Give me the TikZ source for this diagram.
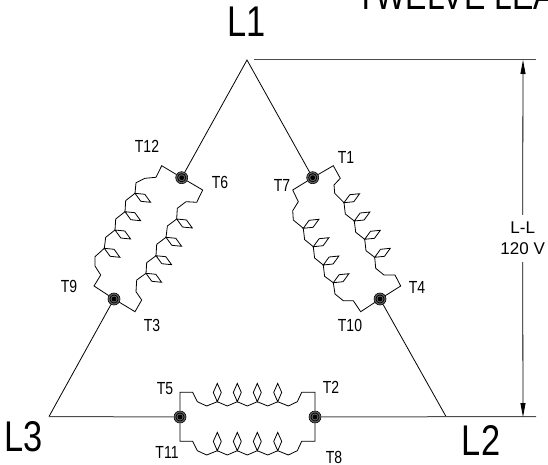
\documentclass[tikz,border=0pt]{standalone}
\usepackage{fontspec}
\setmainfont{Liberation Sans}
\newfontfamily\condfont[FakeStretch=0.80]{Liberation Sans}
\newfontfamily\titlefont[FakeStretch=0.80]{Liberation Sans}
\usetikzlibrary{arrows.meta}
\tikzset{
  wire/.style={line width=0.8pt,black,line join=miter},
  dimline/.style={line width=1pt,black!70},
  tlabel/.style={inner sep=0pt,font=\condfont\fontsize{17.5}{17.5}\selectfont,anchor=center},
  biglabel/.style={inner sep=0pt,font=\condfont\fontsize{43}{43}\selectfont,anchor=base},
  volt/.style={inner sep=0pt,font=\fontsize{17}{21}\selectfont,align=center,minimum height=47pt},
  dot/.style={circle,draw=black,line width=0.6pt,minimum size=12pt,inner sep=0pt,fill=black!60,
    path picture={
      \draw[black,line width=0.8pt] (path picture bounding box.center) circle (4.1pt);
      \fill[black] (path picture bounding box.center) circle (2.4pt);}},
  darrow/.style={wire,-{Triangle[length=14pt,width=5pt]}},
}
\newcommand{\dmd}[5]{\draw[wire] (#1,#2) -- +(#3) -- +(#4) -- +(#5) -- cycle;}
\newcommand{\dmdR}[2]{\dmd{#1}{#2}{5.8,-8}{15.6,-9}{9.8,-1}}
\newcommand{\dmdL}[2]{\dmd{#1}{#2}{5.8,8}{15.6,9}{9.8,1}}
\newcommand{\dmdB}[2]{\dmd{#1}{#2}{-4,-9.3}{0,-18.3}{4,-9.3}}
\begin{document}
\begin{tikzpicture}[x=1pt,y=-1pt]
\useasboundingbox (0,0) rectangle (548,465);
\clip (0,0) rectangle (548,465);
\coordinate (apex) at (247,60);
\coordinate (cL3) at (49,416.5);
\coordinate (cL2) at (446,416.5);
\coordinate (dt) at (523,60);
\coordinate (db) at (523,417);
\coordinate (dt1) at (254,60);
\coordinate (dt2) at (536,60);
\coordinate (db2) at (536,416.5);
% junctions
\node[dot] (J1) at (312.7,177.7) {};
\node[dot] (J6) at (181.7,177.7) {};
\node[dot] (J3) at (114,299) {};
\node[dot] (J4) at (380,299) {};
\node[dot] (J5) at (180,417) {};
\node[dot] (J2) at (315,417) {};
% triangle wires
\draw[wire] (J1) -- (apex) -- (J6);
\draw[wire] (J3) -- (cL3);
\draw[dimline] (cL3) -- (J5);
\draw[wire] (J4) -- (cL2);
\draw[dimline] (J2) -- (db2);
\draw[dimline] (dt1) -- (dt2);
% dimension
\node[volt] (vlab) at (522.7,238.5) {L-L\\120 V};
\draw[darrow] (vlab.north) -- (dt);
\draw[darrow] (vlab.south) -- (db);
% right coils
\draw[wire] (J1) -- (333.3,165.7) -- (340.3,178.3) -- (334,185) -- (334.7,193.3) -- (344,202.7)
 -- (345.3,214) -- (354.3,221) -- (355.7,232.3) -- (364.7,239.3) -- (366,250.7) -- (374.7,257.3)
 -- (375.7,268.3) -- (384,275) -- (395,275) -- (400.7,286) -- (J4);
\dmdR{344}{202.7}\dmdR{354.3}{221}\dmdR{364.7}{239.3}\dmdR{374.7}{257.3}
\draw[wire] (J1) -- (292.7,190) -- (298.3,201.7) -- (292.7,210.7) -- (293.3,220) -- (303.3,228.3)
 -- (304.6,239.6) -- (313.3,246.7) -- (314.6,258) -- (323.3,265) -- (324.6,276.3) -- (333.3,282.7)
 -- (335,294) -- (343.3,300.7) -- (353.3,300.7) -- (360.7,311.7) -- (J4);
\dmdR{303.3}{228.3}\dmdR{313.3}{246.7}\dmdR{323.3}{265}\dmdR{333.3}{282.7}
% left coils
\draw[wire] (J6) -- (161.7,165.7) -- (156,177.3) -- (145,178.3) -- (136,182.7) -- (135,193.3)
 -- (125.7,200.6) -- (125,211.7) -- (115.7,219) -- (115,230) -- (105.7,237.3) -- (104.3,248.3)
 -- (95,256.7) -- (95,266) -- (100.7,275) -- (94,286) -- (J3);
\dmdL{135}{193.3}\dmdL{125}{211.7}\dmdL{115}{230}\dmdL{104.3}{248.3}
\draw[wire] (J6) -- (202.7,190) -- (196.7,202.3) -- (186,201.7) -- (177.3,208.3) -- (176.7,219)
 -- (167.4,226) -- (166,237.3) -- (156.7,244.3) -- (156,255.7) -- (146.7,262.7) -- (146,273.3)
 -- (136.7,280) -- (136,291.7) -- (141.7,300) -- (135,311.7) -- (J3);
\dmdL{176.7}{219}\dmdL{166}{237.3}\dmdL{156}{255.7}\dmdL{146}{273.3}
% bottom coils
\draw[wire] (J5) -- (180,392.3) -- (192.7,392.3) -- (197.3,401.7) -- (206.7,406) -- (217.3,401.7)
 -- (227.3,406) -- (237.3,401.7) -- (247.3,406) -- (257.3,401.7) -- (267.7,406) -- (277.7,401.7)
 -- (288.3,406) -- (297.3,401.7) -- (301.7,392.3) -- (315,392.3) -- (J2);
\dmdB{217.3}{401.7}\dmdB{237.3}{401.7}\dmdB{257.3}{401.7}\dmdB{277.7}{401.7}
\draw[wire] (J5) -- (180,441.3) -- (192.7,441.3) -- (197.3,450.7) -- (206.7,455) -- (217.3,450.7)
 -- (227.3,455) -- (237.3,450.7) -- (247.3,455) -- (257.3,450.7) -- (267.7,455) -- (277.7,450.7)
 -- (288.3,455) -- (297.3,450.7) -- (301.7,441.3) -- (315,441.3) -- (J2);
\dmdB{217.3}{450.7}\dmdB{237.3}{450.7}\dmdB{257.3}{450.7}\dmdB{277.7}{450.7}
% labels
\node[tlabel] (t1) at (346,157) {T1};
\node[tlabel] (t7) at (282,185) {T7};
\node[tlabel] (t4) at (417,287) {T4};
\node[tlabel] (t10) at (350,325) {T10};
\node[tlabel] (t12) at (147,146) {T12};
\node[tlabel] (t6) at (220,182) {T6};
\node[tlabel] (t9) at (69,286) {T9};
\node[tlabel] (t3) at (152,325) {T3};
\node[tlabel] (t5) at (165,389) {T5};
\node[tlabel] (t2) at (331,387) {T2};
\node[tlabel] (t11) at (167,452) {T11};
\node[tlabel] (t8) at (334,457) {T8};
\node[biglabel] (l1) at (247,37) {L1};
\node[biglabel] (l2) at (481,455) {L2};
\node[biglabel] (l3) at (24,451) {L3};
\node[inner sep=0pt,anchor=base west,font=\titlefont\fontsize{40}{40}\selectfont] (title) at (356,9.5) {TWELVE LEA};
\end{tikzpicture}
\end{document}
